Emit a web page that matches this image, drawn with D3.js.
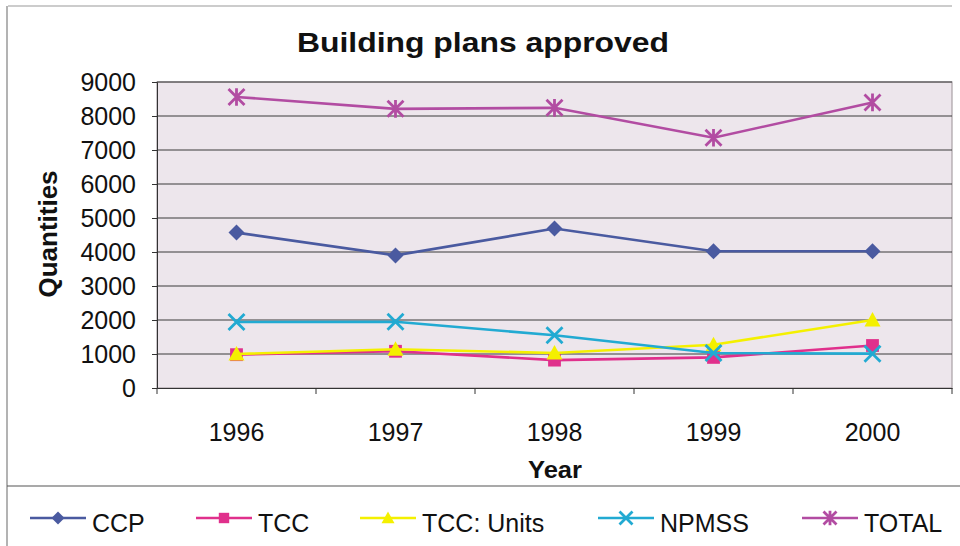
<!DOCTYPE html>
<html>
<head>
<meta charset="utf-8">
<script src="https://cdn.jsdelivr.net/npm/d3@7/dist/d3.min.js"></script>
<style>
  html, body { margin: 0; padding: 0; background: #ffffff; }
  svg { display: block; font-family: "Liberation Sans", Arial, sans-serif; }
</style>
</head>
<body>
<svg id="chart" width="960" height="546"></svg>
<script>
// Building plans approved, per year and per programme
const years = ["1996", "1997", "1998", "1999", "2000"];
const ccp      = [4570, 3900, 4690, 4020, 4020];
const tcc      = [980, 1080, 820, 900, 1250];
const tccUnits = [1000, 1140, 1030, 1270, 2000];
const npmss    = [1940, 1950, 1550, 1030, 1010];
const total    = [8560, 8210, 8240, 7360, 8400];
const yTicks   = [0, 1000, 2000, 3000, 4000, 5000, 6000, 7000, 8000, 9000];

const seriesList = [
  { name: "CCP",        values: ccp,      color: "#4a5aa0", symbol: "diamond" },
  { name: "TCC",        values: tcc,      color: "#e0308c", symbol: "square" },
  { name: "TCC: Units", values: tccUnits, color: "#f4f000", symbol: "triangle" },
  { name: "NPMSS",      values: npmss,    color: "#22aad2", symbol: "x" },
  { name: "TOTAL",      values: total,    color: "#b24ca2", symbol: "star" }
];

const svg = d3.select("#chart");
const plot = { left: 157, right: 952, top: 82, bottom: 388 };

const x = d3.scaleBand().domain(years).range([plot.left, plot.right]);
const y = d3.scaleLinear().domain([0, 9000]).range([plot.bottom, plot.top]);

// outer frame pieces
svg.append("line").attr("x1", 8).attr("x2", 952).attr("y1", 6).attr("y2", 6)
  .attr("stroke", "#9a9a9a").attr("stroke-width", 1.2);
svg.append("line").attr("x1", 7).attr("x2", 7).attr("y1", 6).attr("y2", 546)
  .attr("stroke", "#9a9a9a").attr("stroke-width", 1.5);
svg.append("line").attr("x1", 7).attr("x2", 960).attr("y1", 486).attr("y2", 486)
  .attr("stroke", "#555").attr("stroke-width", 1.2);

// title
svg.append("text").attr("x", 483).attr("y", 52).attr("text-anchor", "middle")
  .attr("font-size", 28).attr("font-weight", "bold").attr("fill", "#111")
  .attr("textLength", 372).attr("lengthAdjust", "spacingAndGlyphs")
  .text("Building plans approved");

// plot area
svg.append("rect")
  .attr("x", plot.left).attr("y", plot.top)
  .attr("width", plot.right - plot.left).attr("height", plot.bottom - plot.top)
  .attr("fill", "#ede6ec").attr("stroke", "#a8a0a6").attr("stroke-width", 1.2);

// horizontal gridlines
svg.append("g").selectAll("line").data(yTicks.filter(d => d > 0)).join("line")
  .attr("x1", plot.left).attr("x2", plot.right)
  .attr("y1", d => y(d)).attr("y2", d => y(d))
  .attr("stroke", "#3a3a3a").attr("stroke-width", 1);

// y axis
const yAxis = svg.append("g").attr("transform", `translate(${plot.left},0)`)
  .call(d3.axisLeft(y).tickValues(yTicks).tickSize(5).tickPadding(16).tickFormat(d3.format("d")));
yAxis.select(".domain").attr("stroke", "#333");
yAxis.selectAll(".tick line").attr("stroke", "#333");
yAxis.selectAll("text").attr("font-size", 25).attr("fill", "#111")
  .attr("font-family", "Liberation Sans, Arial, sans-serif");

// x axis
const xAxis = svg.append("g").attr("transform", `translate(0,${plot.bottom})`)
  .call(d3.axisBottom(x).tickSize(0).tickPadding(35));
xAxis.select(".domain").attr("stroke", "#333");
xAxis.selectAll("text").attr("font-size", 25).attr("fill", "#111")
  .attr("font-family", "Liberation Sans, Arial, sans-serif");
// category boundary ticks
svg.append("g").selectAll("line").data(years.concat(["end"])).join("line")
  .attr("x1", (d, i) => plot.left + i * x.bandwidth())
  .attr("x2", (d, i) => plot.left + i * x.bandwidth())
  .attr("y1", plot.bottom).attr("y2", plot.bottom + 6)
  .attr("stroke", "#333");

// axis titles
svg.append("text").attr("transform", "translate(57,234) rotate(-90)")
  .attr("text-anchor", "middle").attr("font-size", 26).attr("font-weight", "bold")
  .attr("fill", "#111").text("Quantities");
svg.append("text").attr("x", 555).attr("y", 478).attr("text-anchor", "middle")
  .attr("font-size", 23).attr("font-weight", "bold").attr("fill", "#111")
  .attr("textLength", 54).attr("lengthAdjust", "spacingAndGlyphs").text("Year");

// marker drawing
function drawMarker(g, symbol, color, size) {
  const s = size;
  if (symbol === "diamond") {
    g.append("path").attr("d", `M0,${-s}L${s},0L0,${s}L${-s},0Z`).attr("fill", color);
  } else if (symbol === "square") {
    g.append("rect").attr("x", -s * 0.8).attr("y", -s * 0.8)
      .attr("width", s * 1.6).attr("height", s * 1.6).attr("fill", color);
  } else if (symbol === "triangle") {
    g.append("path").attr("d", `M0,${-s}L${s},${s * 0.8}L${-s},${s * 0.8}Z`).attr("fill", color);
  } else if (symbol === "x") {
    g.append("path").attr("d", `M${-s},${-s}L${s},${s}M${-s},${s}L${s},${-s}`)
      .attr("stroke", color).attr("stroke-width", 2.8).attr("fill", "none");
  } else if (symbol === "star") {
    g.append("path")
      .attr("d", `M${-s},${-s}L${s},${s}M${-s},${s}L${s},${-s}M0,${-s * 1.1}L0,${s * 1.1}`)
      .attr("stroke", color).attr("stroke-width", 2.8).attr("fill", "none");
  }
}

const line = d3.line().x((d, i) => x(years[i]) + x.bandwidth() / 2).y(d => y(d));

seriesList.forEach(s => {
  svg.append("path").datum(s.values).attr("d", line)
    .attr("fill", "none").attr("stroke", s.color).attr("stroke-width", 2.6);
  s.values.forEach((v, i) => {
    const g = svg.append("g")
      .attr("transform", `translate(${x(years[i]) + x.bandwidth() / 2},${y(v)})`);
    drawMarker(g, s.symbol, s.color, 8);
  });
});

// legend
const legendX = [30, 196, 360, 598, 802];
seriesList.forEach((s, i) => {
  const lx = legendX[i];
  const g = svg.append("g").attr("transform", `translate(${lx},518)`);
  g.append("line").attr("x1", 0).attr("x2", 56).attr("y1", 0).attr("y2", 0)
    .attr("stroke", s.color).attr("stroke-width", 2.4);
  const m = g.append("g").attr("transform", "translate(28,0)");
  drawMarker(m, s.symbol, s.color, 6.5);
  g.append("text").attr("x", 62).attr("y", 14).attr("font-size", 25)
    .attr("fill", "#111").text(s.name);
});
</script>
</body>
</html>
